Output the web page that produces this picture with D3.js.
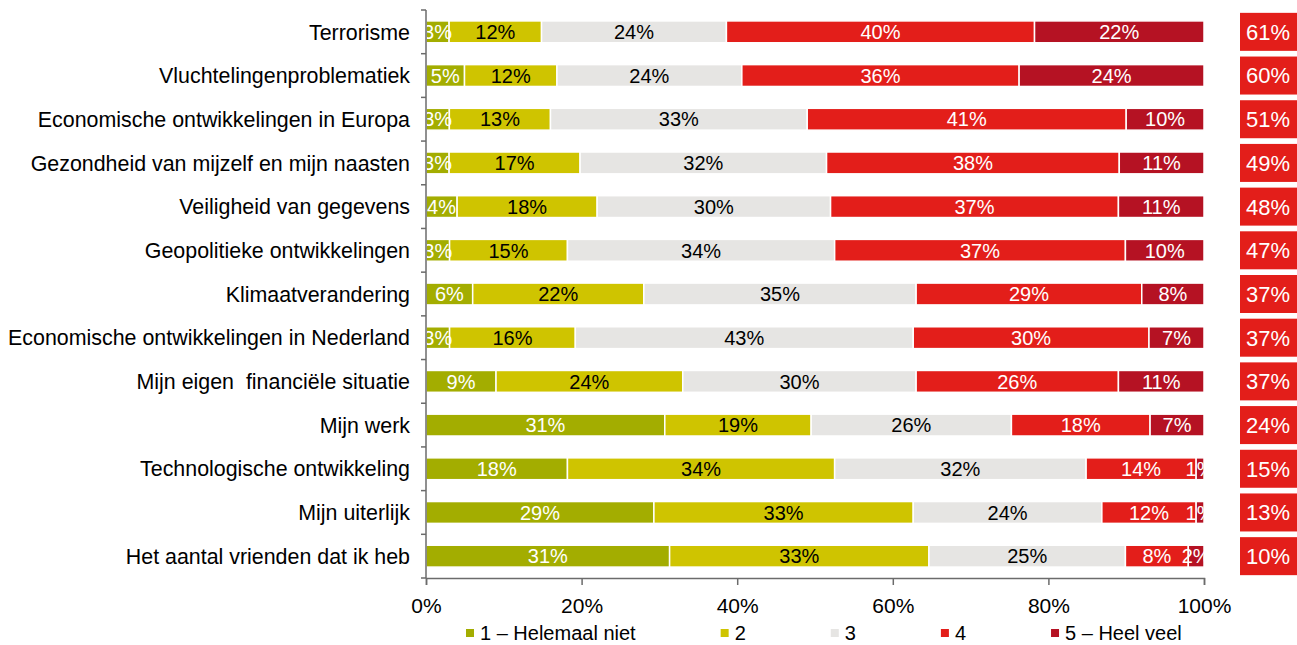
<!DOCTYPE html>
<html>
<head>
<meta charset="utf-8">
<script src="https://cdn.jsdelivr.net/npm/d3@7"></script>
<style>
  body { margin: 0; background: #fff; }
  text { font-family: "Liberation Sans", Arial, sans-serif; white-space: pre; }
</style>
</head>
<body>
<svg id="chart" width="1297" height="645"></svg>
<script>
let width = 1297;
let height = 645;
let margins = {top: 10, bottom: 67, left: 426, right: 93};

// data
const categories = [
	"Terrorisme",
	"Vluchtelingenproblematiek",
	"Economische ontwikkelingen in Europa",
	"Gezondheid van mijzelf en mijn naasten",
	"Veiligheid van gegevens",
	"Geopolitieke ontwikkelingen",
	"Klimaatverandering",
	"Economische ontwikkelingen in Nederland",
	"Mijn eigen  financiële situatie",
	"Mijn werk",
	"Technologische ontwikkeling",
	"Mijn uiterlijk",
	"Het aantal vrienden dat ik heb"
];
const seriesNames = ["1 – Helemaal niet", "2", "3", "4", "5 – Heel veel"];
const s1 = [3, 5, 3, 3, 4, 3, 6, 3, 9, 31, 18, 29, 31];
const s2 = [12, 12, 13, 17, 18, 15, 22, 16, 24, 19, 34, 33, 33];
const s3 = [24, 24, 33, 32, 30, 34, 35, 43, 30, 26, 32, 24, 25];
const s4 = [40, 36, 41, 38, 37, 37, 29, 30, 26, 18, 14, 12, 8];
const s5 = [22, 24, 10, 11, 11, 10, 8, 7, 11, 7, 1, 1, 2];
const topTwo = [61, 60, 51, 49, 48, 47, 37, 37, 37, 24, 15, 13, 10];
const tickValues = [0, 0.2, 0.4, 0.6, 0.8, 1];

const colors = ["#a3ad00", "#cfc400", "#e6e5e3", "#e31e1a", "#b51223"];
const labelColors = ["#fff", "#000", "#000", "#fff", "#fff"];

function main() {
	const rows = categories.map((c, i) => {
		const r = {cat: c};
		[s1, s2, s3, s4, s5].forEach((s, k) => r[seriesNames[k]] = s[i]);
		return r;
	});
	const stacked = d3.stack().keys(seriesNames).offset(d3.stackOffsetExpand)(rows);

	const x = d3.scaleLinear().domain([0, 1]).range([margins.left, width - margins.right]);
	const y = d3.scaleBand().domain(categories)
		.range([margins.top, height - margins.bottom])
		.paddingInner(0.5).paddingOuter(0.25);

	const svg = d3.select("#chart");

	svg.append("clipPath").attr("id", "plotclip")
		.append("rect")
		.attr("x", x(0)).attr("y", 0)
		.attr("width", x(1) - x(0)).attr("height", height);

	// segments
	const groups = svg.append("g").selectAll("g")
		.data(stacked).enter().append("g")
		.attr("fill", (d, i) => colors[i]);
	groups.selectAll("rect")
		.data(d => d).enter()
		.append("rect")
		.attr("x", d => x(d[0]))
		.attr("y", d => y(d.data.cat))
		.attr("width", d => x(d[1]) - x(d[0]))
		.attr("height", y.bandwidth())
		.attr("stroke", "#fff")
		.attr("stroke-width", 1.5);

	// value labels
	const labels = svg.append("g").attr("clip-path", "url(#plotclip)");
	stacked.forEach((s, k) => {
		labels.selectAll(null)
			.data(s).enter()
			.append("text")
			.attr("x", d => (x(d[0]) + x(d[1])) / 2)
			.attr("y", d => y(d.data.cat) + y.bandwidth() / 2)
			.attr("dy", "0.36em")
			.attr("text-anchor", "middle")
			.attr("font-size", 20)
			.attr("fill", labelColors[k])
			.text(d => d.data[s.key] + "%");
	});

	// category labels
	svg.append("g").selectAll("text")
		.data(categories).enter()
		.append("text")
		.attr("x", x(0) - 16)
		.attr("y", d => y(d) + y.bandwidth() / 2)
		.attr("dy", "0.36em")
		.attr("text-anchor", "end")
		.attr("font-size", 21.4)
		.attr("fill", "#000")
		.text(d => d);

	// y axis line with ticks between categories
	const yax = svg.append("g").attr("stroke", "#6b6b6b").attr("stroke-width", 1.5);
	yax.append("line")
		.attr("x1", x(0)).attr("x2", x(0))
		.attr("y1", margins.top).attr("y2", height - margins.bottom);
	yax.selectAll(null)
		.data(d3.range(categories.length + 1)).enter()
		.append("line")
		.attr("x1", x(0) - 5).attr("x2", x(0))
		.attr("y1", k => margins.top + k * y.step())
		.attr("y2", k => margins.top + k * y.step());

	// x axis
	const xax = svg.append("g")
		.attr("transform", `translate(0,${height - margins.bottom})`)
		.call(d3.axisBottom(x).tickValues(tickValues)
			.tickFormat(d3.format(".0%")).tickSize(7).tickPadding(13));
	xax.select(".domain").attr("stroke", "#6b6b6b").attr("stroke-width", 1.5);
	xax.selectAll(".tick line").attr("stroke", "#6b6b6b").attr("stroke-width", 1.5);
	xax.selectAll(".tick text")
		.attr("font-size", 21).attr("fill", "#000")
		.style("font-family", "'Liberation Sans', Arial, sans-serif");

	// top-two boxes on the right
	const boxes = svg.append("g").selectAll("g")
		.data(categories).enter().append("g");
	boxes.append("rect")
		.attr("x", 1240)
		.attr("y", d => y(d) + y.bandwidth() / 2 - 19)
		.attr("width", 70).attr("height", 38)
		.attr("fill", "#e31e1a");
	boxes.append("text")
		.attr("x", 1246)
		.attr("y", d => y(d) + y.bandwidth() / 2)
		.attr("dy", "0.36em")
		.attr("font-size", 22)
		.attr("fill", "#fff")
		.text((d, i) => topTwo[i] + "%");

	// legend
	const legend = svg.append("g").attr("transform", "translate(466,633)");
	let lx = 0;
	seriesNames.forEach((name, i) => {
		const g = legend.append("g").attr("transform", `translate(${lx},0)`);
		g.append("rect").attr("x", 0).attr("y", -4).attr("width", 8).attr("height", 8)
			.attr("fill", colors[i]);
		const t = g.append("text").attr("x", 14).attr("dy", "0.36em")
			.attr("font-size", 20).attr("fill", "#000")
			.text(name);
		lx += 14 + t.node().getComputedTextLength() + 85;
	});
}

main();
</script>
</body>
</html>
